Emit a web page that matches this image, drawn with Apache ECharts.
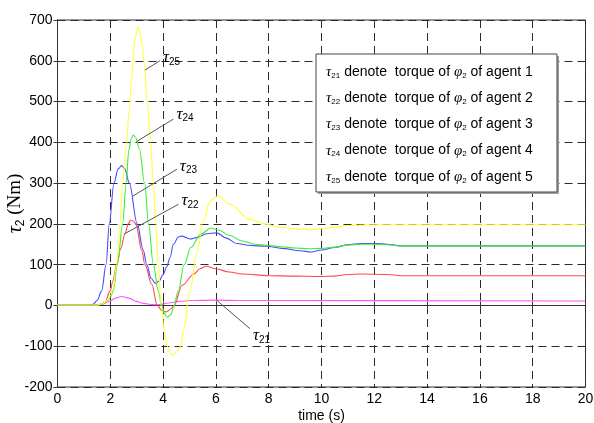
<!DOCTYPE html>
<html>
<head>
<meta charset="utf-8">
<script src="https://cdn.jsdelivr.net/npm/echarts@6/dist/echarts.min.js"></script>
<style>
html, body { margin: 0; padding: 0; background: #ffffff; }
#chart { width: 594px; height: 423px; }
</style>
</head>
<body>
<div id="chart"></div>
<script>
// Axis ticks
const xTicks = [0, 2, 4, 6, 8, 10, 12, 14, 16, 18, 20];
const yTicks = [-200, -100, 0, 100, 200, 300, 400, 500, 600, 700];

// Joint torque of phi_2 for each agent, [time (s), torque (Nm)]
const tau21 = [[0,1],[1.4,1],[1.7,3],[2.0,11],[2.2,18],[2.43,22],[2.7,18],[3.0,10],[3.25,5],[3.6,2],[3.9,2],[4.2,6],[4.6,10],[5,12],[6,13],[7,12],[20,11]];
const tau22 = [[0,1],[1.5,1],[1.65,3],[1.8,8],[1.99,35],[2.1,60],[2.24,100],[2.4,140],[2.56,177],[2.68,200],[2.77,209],[2.87,207],[2.97,200],[3.19,135],[3.31,100],[3.57,52],[3.78,0],[3.95,-12],[4.12,-16],[4.3,-8],[4.41,0],[4.73,50],[5.17,77],[5.4,90],[5.62,96],[6,90],[6.5,82],[7,77],[8,73],[9,72],[10,71],[10.5,72],[11,76],[11.5,77],[12.5,76],[13,73],[20,73]];
const tau23 = [[0,1],[1.2,1],[1.35,3],[1.5,12],[1.67,35],[1.84,100],[1.96,200],[2.14,300],[2.3,335],[2.43,343],[2.55,335],[2.72,300],[3.02,200],[3.25,135],[3.38,100],[3.55,66],[3.71,54],[3.85,60],[4.0,76],[4.14,95],[4.26,117],[4.39,150],[4.58,168],[4.7,170],[5.02,163],[5.3,167],[5.65,176],[6.03,178],[6.4,165],[6.79,152],[7.3,147],[7.92,145],[8.5,140],[9.19,134],[9.6,131],[10,136],[10.5,142],[11,149],[11.5,152],[12,152],[12.5,150],[13,146],[20,146]];
const tau24 = [[0,1],[1.5,1],[1.7,4],[1.9,12],[2.0,20],[2.11,35],[2.27,100],[2.47,200],[2.6,300],[2.7,380],[2.8,410],[2.87,418],[2.95,413],[3.1,385],[3.3,300],[3.45,200],[3.63,100],[3.82,35],[3.95,0],[4.05,-20],[4.15,-29],[4.3,-22],[4.39,-5],[4.58,36],[4.79,99],[5.05,142],[5.43,175],[5.81,190],[6.1,185],[6.5,172],[7,158],[7.5,150],[8,147],[8.5,144],[9,141],[9.5,139],[10,140],[10.5,143],[11,148],[11.5,150],[12,150],[12.5,149],[13,146],[20,146]];
const tau25 = [[0,1],[1.5,1],[1.7,4],[1.9,14],[2.0,24],[2.1,40],[2.24,100],[2.37,200],[2.46,300],[2.6,390],[2.72,480],[2.8,550],[2.86,600],[2.92,650],[3.04,683],[3.12,670],[3.2,640],[3.28,598],[3.4,499],[3.53,398],[3.63,300],[3.72,200],[3.82,100],[3.92,0],[4.05,-60],[4.16,-100],[4.28,-118],[4.37,-122],[4.5,-115],[4.67,-100],[4.77,-62],[5.02,36],[5.27,125],[5.52,207],[5.78,256],[6.06,269],[6.53,248],[7.29,211],[7.92,199],[8.5,191],[9.19,187],[9.6,186],[10,188],[10.5,192],[11,196],[12,198],[20,198]];

const seriesNames = ['τ21', 'τ22', 'τ23', 'τ24', 'τ25'];
const seriesSubs = ['21', '22', '23', '24', '25'];
const agentNums = ['1', '2', '3', '4', '5'];
const seriesColors = ['#ff55ff', '#ff4a4a', '#4a4aff', '#3aee3a', '#ffff33'];

// Leader lines: [point on curve, label anchor]
const leader21 = [[6.03, 12.7], [7.29, -57]];
const leader22 = [[2.52, 175], [4.58, 248]];
const leader23 = [[2.85, 268], [4.52, 334]];
const leader24 = [[3.0, 402], [4.39, 457]];
const leader25 = [[3.31, 577], [3.88, 600]];

const curves = [tau21, tau22, tau23, tau24, tau25];
const leaders = [leader21, leader22, leader23, leader24, leader25];
const leaderOffsets = [[0, 7], [0, -4], [0, -3], [0, -5], [0, -3]];

const serif = "'Liberation Serif', 'Times New Roman', serif";
const sans = "'Liberation Sans', Arial, sans-serif";

const tauRich = {
  t: { fontFamily: serif, fontStyle: 'italic', fontSize: 17, color: '#000' },
  s: { fontFamily: sans, fontSize: 10, color: '#000', padding: [9, 0, 0, 0] }
};

const series = [];
curves.forEach((d, i) => {
  series.push({
    name: seriesNames[i],
    type: 'line',
    data: d,
    showSymbol: false,
    smooth: 0.35,
    smoothMonotone: 'x',
    z: 3 + i,
    lineStyle: { color: seriesColors[i], width: 1.1 },
    emphasis: { disabled: true }
  });
});
leaders.forEach((d, i) => {
  series.push({
    name: 'leader' + seriesSubs[i],
    type: 'line',
    data: d,
    showSymbol: false,
    z: 10,
    lineStyle: { color: '#555', width: 1 },
    emphasis: { disabled: true },
    endLabel: {
      show: true,
      distance: 3,
      offset: leaderOffsets[i],
      formatter: '{t|τ}{s|' + seriesSubs[i] + '}',
      rich: tauRich
    }
  });
});

// Legend box text rows
const legendRich = {
  t: { fontFamily: serif, fontStyle: 'italic', fontSize: 15, color: '#000' },
  s: { fontFamily: sans, fontSize: 8, color: '#000', padding: [7, 0, 0, 0] },
  n: { fontFamily: sans, fontSize: 14, color: '#000' },
  p: { fontFamily: serif, fontStyle: 'italic', fontSize: 15, color: '#000' }
};
const legendBoxX = 316, legendBoxY = 54, legendBoxW = 241, legendBoxH = 138;
const legendChildren = [
  { type: 'rect', z: 100, shape: { x: legendBoxX + 2, y: legendBoxY + 2, width: legendBoxW, height: legendBoxH }, style: { fill: '#a0a0a0' } },
  { type: 'rect', z: 101, shape: { x: legendBoxX, y: legendBoxY, width: legendBoxW, height: legendBoxH }, style: { fill: '#ffffff', stroke: '#444', lineWidth: 1 } }
];
agentNums.forEach((a, i) => {
  legendChildren.push({
    type: 'text',
    z: 102,
    x: 326,
    y: 72 + i * 26.2,
    style: {
      text: '{t|τ}{s|' + seriesSubs[i] + '}{n| denote  torque of }{p|φ}{s|2}{n| of agent ' + a + '}',
      rich: legendRich,
      verticalAlign: 'middle',
      align: 'left'
    }
  });
});

const gridLine = { show: true, lineStyle: { color: '#2a2a2a', width: 1, type: [8, 5] } };

const chart = echarts.init(document.getElementById('chart'), null, { renderer: 'canvas' });
chart.setOption({
  animation: false,
  backgroundColor: '#ffffff',
  grid: { left: 57.5, right: 8.5, top: 20, bottom: 36, containLabel: false, outerBoundsMode: 'none', show: true, borderColor: '#333', borderWidth: 1 },
  xAxis: [{
    type: 'value',
    min: xTicks[0], max: xTicks[xTicks.length - 1], interval: xTicks[1] - xTicks[0],
    name: 'time (s)', nameLocation: 'middle', nameGap: 22, nameMoveOverlap: false,
    nameTextStyle: { fontFamily: sans, fontSize: 14, color: '#000' },
    axisLine: { show: true, lineStyle: { color: '#333', width: 1 } },
    axisTick: { show: true, inside: true, length: 4, lineStyle: { color: '#333' } },
    axisLabel: { fontFamily: sans, fontSize: 14, color: '#000', margin: 5 },
    splitLine: gridLine
  }, {
    type: 'value', position: 'top',
    min: xTicks[0], max: xTicks[xTicks.length - 1], interval: xTicks[1] - xTicks[0],
    axisLine: { show: true, lineStyle: { color: '#333' } },
    axisTick: { show: true, inside: true, length: 4, lineStyle: { color: '#333' } },
    axisLabel: { show: false }, splitLine: { show: false }
  }],
  yAxis: [{
    type: 'value',
    min: yTicks[0], max: yTicks[yTicks.length - 1], interval: yTicks[1] - yTicks[0],
    name: '{t|τ}{s|2}{n| (Nm)}', nameLocation: 'middle', nameGap: 31, nameRotate: 90, nameMoveOverlap: false,
    nameTextStyle: {
      rich: {
        t: { fontFamily: serif, fontStyle: 'italic', fontSize: 20, color: '#000' },
        s: { fontFamily: sans, fontSize: 12, color: '#000', padding: [10, 0, 0, 0] },
        n: { fontFamily: serif, fontSize: 19, color: '#000' }
      }
    },
    axisLine: { show: true, lineStyle: { color: '#333', width: 1 } },
    axisTick: { show: true, inside: true, length: 4, lineStyle: { color: '#333' } },
    axisLabel: { fontFamily: sans, fontSize: 14, color: '#000', margin: 5 },
    splitLine: gridLine
  }, {
    type: 'value', position: 'right',
    min: yTicks[0], max: yTicks[yTicks.length - 1], interval: yTicks[1] - yTicks[0],
    axisLine: { show: true, lineStyle: { color: '#333' } },
    axisTick: { show: true, inside: true, length: 4, lineStyle: { color: '#333' } },
    axisLabel: { show: false }, splitLine: { show: false }
  }],
  series: series,
  graphic: [{ type: 'group', children: legendChildren }]
});
</script>
</body>
</html>
